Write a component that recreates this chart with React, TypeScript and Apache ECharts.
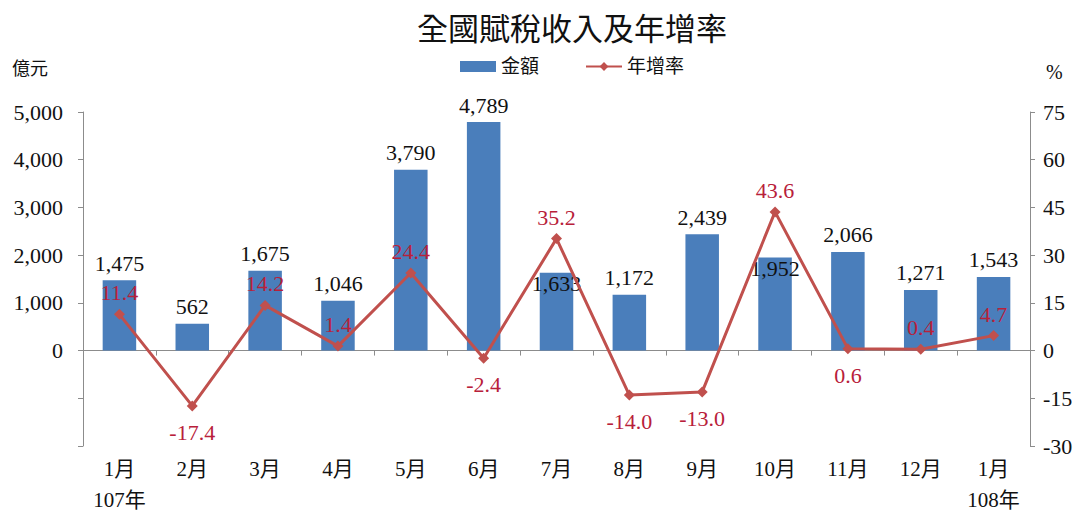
import React, { useEffect, useRef } from "react";
import * as echarts from "echarts";

const categories = ["1月\n107年", "2月", "3月", "4月", "5月", "6月", "7月", "8月", "9月", "10月", "11月", "12月", "1月\n108年"];
const amounts = [1475, 562, 1675, 1046, 3790, 4789, 1633, 1172, 2439, 1952, 2066, 1271, 1543];
const growth = [11.4, -17.4, 14.2, 1.4, 24.4, -2.4, 35.2, -14.0, -13.0, 43.6, 0.6, 0.4, 4.7];
const leftTicks = [-2000, 5000, 1000];
const rightTicks = [-30, 75, 15];

const barLabelInside = [6, 9];
const growthLabelBelow = [10];

const FONT = "'Liberation Serif', 'Times New Roman', 'Noto Sans CJK TC', serif";
const AXIS = "#8c8c8c";

export default function App() {
  const ref = useRef<HTMLDivElement>(null);
  useEffect(() => {
    document.body.style.margin = "0";
    const chart = echarts.init(ref.current!, null, { renderer: "svg" });
    const fmt = (v: number) => v.toLocaleString("en-US");
    chart.setOption({
      animation: false,
      textStyle: { fontFamily: FONT },
      title: {
        text: "全國賦稅收入及年增率",
        left: 412,
        top: 9,
        textStyle: { fontFamily: FONT, fontSize: 31, fontWeight: "normal", color: "#111" },
      },
      legend: {
        top: 52,
        left: 455,
        itemGap: 46,
        itemWidth: 36,
        itemHeight: 11,
        textStyle: { fontFamily: FONT, fontSize: 19, color: "#111" },
        data: [
          { name: "金額", icon: "rect" },
          { name: "年增率" },
        ],
      },
      graphic: [
        { type: "text", left: 12, top: 60, style: { text: "億元", font: `18px ${FONT}`, fill: "#111" } },
        { type: "text", left: 1046, top: 62, style: { text: "%", font: `20px ${FONT}`, fill: "#111" } },
      ],
      grid: { left: 83, right: 47, top: 112, bottom: 61 },
      xAxis: [
        {
          type: "category",
          data: categories,
          axisLine: { lineStyle: { color: AXIS, width: 1 } },
          axisTick: { show: true, length: 5, interval: 0, lineStyle: { color: AXIS } },
          axisLabel: { show: false },
        },
        {
          type: "category",
          data: categories,
          position: "bottom",
          axisLine: { show: false, onZero: false },
          axisTick: { show: false },
          axisLabel: {
            interval: 0,
            margin: 7,
            fontFamily: FONT,
            fontSize: 21,
            lineHeight: 31,
            color: "#111",
          },
        },
      ],
      yAxis: [
        {
          type: "value",
          min: leftTicks[0],
          max: leftTicks[1],
          interval: leftTicks[2],
          splitLine: { show: false },
          axisLine: { show: true, lineStyle: { color: AXIS } },
          axisTick: { show: true, length: 5, lineStyle: { color: AXIS } },
          axisLabel: {
            margin: 20,
            fontFamily: FONT,
            fontSize: 22,
            color: "#111",
            formatter: (v: number) => (v < 0 ? "" : fmt(v)),
          },
        },
        {
          type: "value",
          min: rightTicks[0],
          max: rightTicks[1],
          interval: rightTicks[2],
          splitLine: { show: false },
          axisLine: { show: true, lineStyle: { color: AXIS } },
          axisTick: { show: true, length: 5, lineStyle: { color: AXIS } },
          axisLabel: { margin: 13, fontFamily: FONT, fontSize: 22, color: "#111" },
        },
      ],
      series: [
        {
          name: "金額",
          type: "bar",
          xAxisIndex: 0,
          yAxisIndex: 0,
          barWidth: "46%",
          itemStyle: { color: "#4a7ebb" },
          data: amounts.map((v, i) => ({
            value: v,
            label: barLabelInside.includes(i)
              ? { position: "insideTop", distance: 0 }
              : { position: "top", distance: 6 },
          })),
          label: {
            show: true,
            fontFamily: FONT,
            fontSize: 22,
            color: "#111",
            formatter: (p: any) => fmt(p.value),
          },
          z: 2,
        },
        {
          name: "年增率",
          type: "line",
          xAxisIndex: 0,
          yAxisIndex: 1,
          symbol: "diamond",
          symbolSize: 11,
          lineStyle: { color: "#c0504d", width: 3 },
          itemStyle: { color: "#c0504d" },
          data: growth.map((v, i) => ({
            value: v,
            label: {
              position: v < 0 || growthLabelBelow.includes(i) ? "bottom" : "top",
              distance: v < 0 || growthLabelBelow.includes(i) ? 10 : 5,
            },
          })),
          label: {
            show: true,
            fontFamily: FONT,
            fontSize: 22,
            color: "#b8203a",
            formatter: (p: any) => Number(p.value).toFixed(1),
          },
          z: 3,
        },
      ],
    });
    return () => chart.dispose();
  }, []);
  return <div ref={ref} style={{ width: 1077, height: 515 }} />;
}
